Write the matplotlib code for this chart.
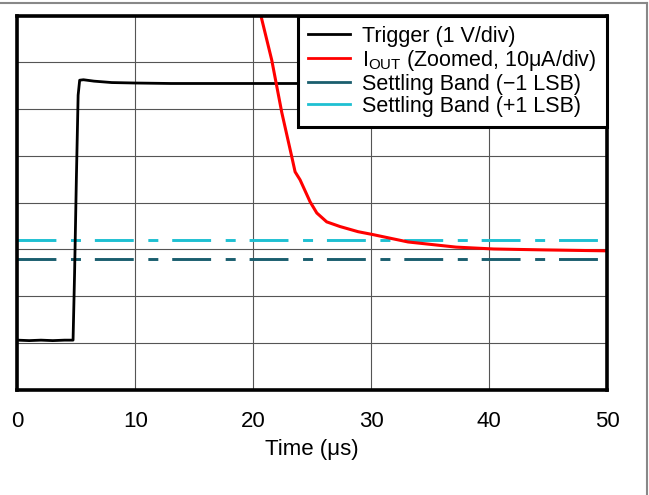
import matplotlib
matplotlib.use("Agg")
import matplotlib.pyplot as plt
from matplotlib.lines import Line2D
import numpy as np

plt.rcParams['font.family'] = ['Liberation Sans', 'DejaVu Sans']
plt.rcParams['lines.scale_dashes'] = False

# Trigger waveform (time in us, value in divisions)
trig_t = [0.0, 1.0, 2.0, 3.0, 4.0, 4.72, 4.85, 5.0, 5.15, 5.28, 5.6, 6.5, 8.0, 10.0, 13.0, 16.0, 20.0, 24.0, 30.0, 40.0, 50.0]
trig_v = [1.06, 1.05, 1.06, 1.05, 1.06, 1.06, 2.5, 4.5, 6.3, 6.62, 6.63, 6.6, 6.57, 6.56, 6.55, 6.55, 6.55, 6.55, 6.55, 6.55, 6.55]

# IOUT zoomed waveform
iout_t = [20.3, 20.64, 21.57, 22.42, 23.27, 23.55, 23.97, 24.82, 25.39, 26.23, 27.36, 28.89, 30.11, 33.13, 37.2, 40.39, 44.75, 50.0]
iout_v = [8.4, 8.01, 7.05, 5.93, 4.98, 4.66, 4.49, 4.02, 3.78, 3.59, 3.49, 3.38, 3.32, 3.16, 3.05, 3.01, 2.99, 2.97]

band_lo = 2.80
band_hi = 3.20

x_ticks = [0, 10, 20, 30, 40, 50]

W, H = 649, 495
fig = plt.figure(figsize=(W / 100, H / 100), dpi=100)
ax = fig.add_axes([17.4 / W, 1 - 389.7 / H, (607 - 17.4) / W, (389.7 - 15.7) / H])

ax.set_xlim(0, 50)
ax.set_ylim(0, 8)
ax.set_xticks(x_ticks)
ax.set_yticks(np.arange(0, 9, 1))
ax.set_yticklabels([])
ax.tick_params(axis='both', length=0, labelsize=16, pad=15.5)
ax.grid(True, color='#555555', linewidth=0.8)
ax.set_axisbelow(True)
for s in ax.spines.values():
    s.set_linewidth(2.6)
    s.set_color('black')
    s.set_zorder(10)

dash = (0, (28, 10.5, 7.2, 10))
ax.plot([0, 50], [band_lo, band_lo], color='#1a5e6e', lw=2.1, linestyle=dash, zorder=3)
ax.plot([0, 50], [band_hi, band_hi], color='#1ec0d2', lw=2.1, linestyle=dash, zorder=3)
ax.plot(trig_t, trig_v, color='black', lw=2.0, zorder=4)
ax.plot(iout_t, iout_v, color='#ff0000', lw=2.2, zorder=5)

ax.set_xlabel('Time (\u03bcs)', fontsize=16, labelpad=5)

handles = [
    Line2D([], [], color='black', lw=2.0),
    Line2D([], [], color='#ff0000', lw=2.0),
    Line2D([], [], color='#1a5e6e', lw=2.0),
    Line2D([], [], color='#1ec0d2', lw=2.0),
]
labels = [
    'Trigger (1 V/div)',
    r'I$_{\mathregular{OUT}}$ (Zoomed, 10$\mathregular{\mu}$A/div)',
    'Settling Band (\u22121 LSB)',
    'Settling Band (+1 LSB)',
]
leg = ax.legend(handles, labels, loc='upper right', bbox_to_anchor=(1.0, 1.0),
                fontsize=15.5, frameon=True, fancybox=False, borderaxespad=0,
                handlelength=1.95, handletextpad=0.55, labelspacing=0.04,
                borderpad=0.48, framealpha=1)
leg.get_frame().set_edgecolor('black')
leg.get_frame().set_linewidth(2.2)
leg.set_zorder(20)

# figure border (top and right, gray)
fig.add_artist(Line2D([0, 647 / W], [1 - 2.5 / H, 1 - 2.5 / H], color='#888888', lw=1.5))
fig.add_artist(Line2D([647 / W, 647 / W], [0, 1 - 2.5 / H], color='#888888', lw=1.5))

fig.savefig('out.png', dpi=100)
